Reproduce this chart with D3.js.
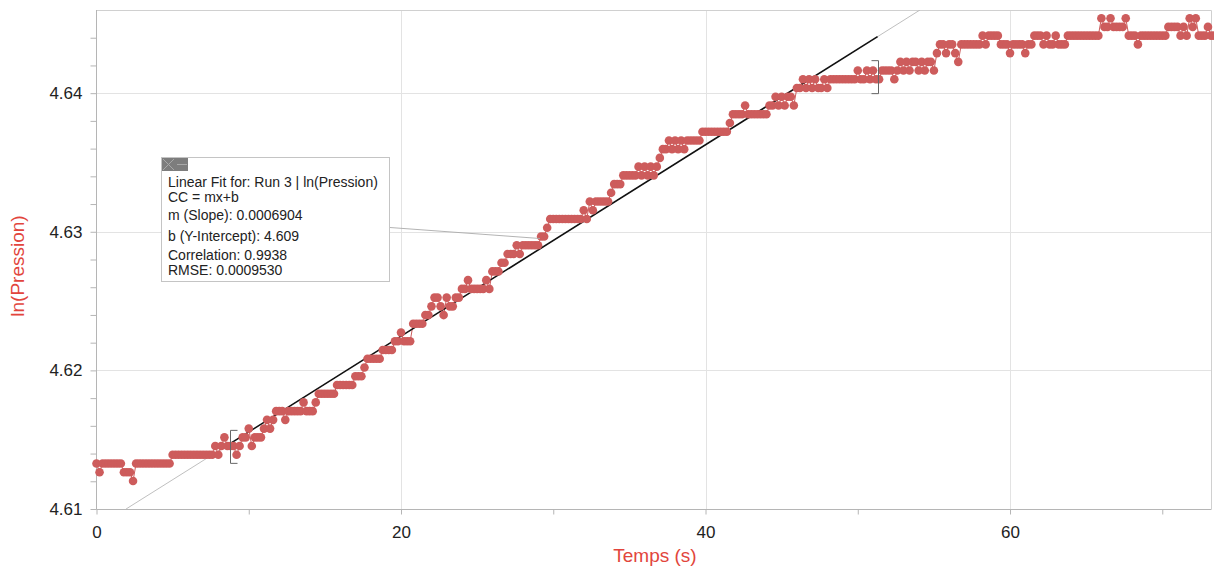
<!DOCTYPE html>
<html>
<head>
<meta charset="utf-8">
<script src="https://cdn.jsdelivr.net/npm/d3@7"></script>
<style>
  html, body { margin: 0; padding: 0; background: #fff; }
  svg { display: block; font-family: "Liberation Sans", Arial, sans-serif; }
</style>
</head>
<body>
<svg id="chart" width="1214" height="571"></svg>
<script>
// ---- data ----
const sampleInterval = 0.2; // s between readings
// ln(Pression) readings, run-length encoded: [value, number of consecutive readings]
const lnPressionRuns = [
  [4.61328,1],[4.61265,1],[4.61328,7],[4.61265,3],[4.61202,1],[4.61328,12],
  [4.61391,14],[4.61454,1],[4.61391,1],[4.61454,1],[4.61517,1],[4.61454,3],
  [4.61391,1],[4.61454,1],[4.61517,2],[4.6158,1],[4.61454,1],[4.61517,3],
  [4.6158,1],[4.61643,1],[4.6158,1],[4.61643,1],[4.61706,3],[4.61643,1],
  [4.61706,5],[4.61769,1],[4.61706,3],[4.61769,1],[4.61832,6],[4.61895,6],
  [4.61958,3],[4.62021,1],[4.62084,5],[4.62147,4],[4.6221,2],[4.62273,1],
  [4.6221,3],[4.62336,4],[4.62399,2],[4.62462,1],[4.62525,2],[4.62462,1],
  [4.62399,1],[4.62525,1],[4.62462,2],[4.62525,2],[4.62588,2],[4.62651,1],
  [4.62588,5],[4.62651,1],[4.62588,1],[4.62714,3],[4.62777,2],[4.6284,3],
  [4.62903,1],[4.6284,1],[4.62903,6],[4.62966,2],[4.63029,1],[4.63092,11],
  [4.63155,1],[4.63092,1],[4.63218,1],[4.63155,1],[4.63218,5],[4.63281,1],
  [4.63344,3],[4.63407,5],[4.6347,1],[4.63407,1],[4.6347,1],[4.63407,1],
  [4.6347,1],[4.63407,1],[4.6347,1],[4.63533,1],[4.63596,2],[4.63659,1],
  [4.63596,1],[4.63659,1],[4.63596,1],[4.63659,1],[4.63596,1],[4.63659,5],
  [4.63722,9],[4.63785,1],[4.63848,4],[4.63911,1],[4.63848,7],[4.63911,2],
  [4.63974,1],[4.63911,1],[4.63974,1],[4.63911,1],[4.63974,2],[4.63911,1],
  [4.64037,2],[4.641,1],[4.64037,1],[4.641,1],[4.64037,1],[4.641,1],
  [4.64037,2],[4.641,1],[4.64037,1],[4.641,9],[4.64163,1],[4.641,2],
  [4.64163,1],[4.641,1],[4.64163,1],[4.641,2],[4.64163,4],[4.641,1],
  [4.64163,1],[4.64226,1],[4.64163,1],[4.64226,1],[4.64163,1],[4.64226,2],
  [4.64163,1],[4.64226,1],[4.64163,1],[4.64226,2],[4.64163,1],[4.64289,1],
  [4.64352,2],[4.64289,1],[4.64352,2],[4.64289,1],[4.64226,1],[4.64352,7],
  [4.64415,1],[4.64352,1],[4.64415,4],[4.64352,3],[4.64289,1],[4.64352,4],
  [4.64289,1],[4.64352,2],[4.64415,3],[4.64352,1],[4.64415,1],[4.64352,2],
  [4.64415,1],[4.64352,3],[4.64415,11],[4.64541,1],[4.64478,2],[4.64541,1],
  [4.64478,4],[4.64541,1],[4.64415,3],[4.64352,1],[4.64415,9],[4.64478,4],
  [4.64415,1],[4.64478,1],[4.64415,1],[4.64541,1],[4.64478,1],[4.64541,1],
  [4.64415,3],[4.64478,1],[4.64415,2]
];

// Linear fit
const fitSlope = 0.0006904;
const fitIntercept = 4.60866;
const fitRange = [8.8, 51.3];
const fitLines = [
  "Linear Fit for: Run 3 | ln(Pression)",
  "CC = mx+b",
  "m (Slope): 0.0006904",
  "b (Y-Intercept): 4.609",
  "Correlation: 0.9938",
  "RMSE: 0.0009530"
];

// Axes
const xDomain = [0, 73.2];
const yDomain = [4.61, 4.646];
const xTicks = [0, 10, 20, 30, 40, 50, 60, 70];
const xLabelTicks = [0, 20, 40, 60];
const yTicks = [4.61, 4.612, 4.614, 4.616, 4.618, 4.62, 4.622, 4.624, 4.626, 4.628,
                4.63, 4.632, 4.634, 4.636, 4.638, 4.64, 4.642, 4.644];
const yLabelTicks = [4.61, 4.62, 4.63, 4.64];
const xTitle = "Temps (s)";
const yTitle = "ln(Pression)";

// ---- build points ----
const points = [];
lnPressionRuns.forEach(([v, n]) => {
  for (let j = 0; j < n; j++) points.push({ t: points.length * sampleInterval, v });
});

// ---- drawing ----
const svg = d3.select("#chart");
const L = 96.5, R = 1211, T = 10, B = 509;
const x = d3.scaleLinear().domain(xDomain).range([L, R]);
const y = d3.scaleLinear().domain(yDomain).range([B, T]);
const dataColor = "#cd5c5c";
const titleColor = "#e2453c";

svg.append("defs").append("clipPath").attr("id", "clip")
  .append("rect").attr("x", L).attr("y", T).attr("width", R - L).attr("height", B - T);

// grid
const grid = svg.append("g");
grid.selectAll(".gx").data(xLabelTicks.filter(d => d > 0)).join("line")
  .attr("x1", d => Math.round(x(d)) + 0.5).attr("x2", d => Math.round(x(d)) + 0.5)
  .attr("y1", T).attr("y2", B).attr("stroke", "#e3e3e3");
grid.selectAll(".gy").data(yLabelTicks.filter(d => d > yDomain[0])).join("line")
  .attr("y1", d => Math.round(y(d)) + 0.5).attr("y2", d => Math.round(y(d)) + 0.5)
  .attr("x1", L).attr("x2", R).attr("stroke", "#e3e3e3");

// frame (top, right)
svg.append("path")
  .attr("d", `M${L},${T + 0.5}H${R + 0.5}V${B}`)
  .attr("fill", "none").attr("stroke", "#d0d0d0");

// axes
const xAxis = d3.axisBottom(x).tickValues(xTicks)
  .tickFormat(d => xLabelTicks.includes(d) ? d3.format("d")(d) : "")
  .tickSize(5).tickPadding(11);
const gx = svg.append("g").attr("transform", `translate(0,${B + 0.5})`).call(xAxis);
gx.select(".domain").attr("stroke", "#b5b5b5").attr("d", `M${L},0H${R + 0.5}`);
gx.selectAll(".tick line").attr("stroke", "#b5b5b5");
gx.selectAll(".tick text").attr("font-size", 17).attr("fill", "#222")
  .attr("font-family", "Liberation Sans, Arial, sans-serif");

const yAxis = d3.axisLeft(y).tickValues(yTicks)
  .tickFormat(d => yLabelTicks.some(v => Math.abs(v - d) < 1e-9) ? d3.format(".2f")(d) : "")
  .tickSize(6).tickPadding(8);
const gy = svg.append("g").attr("transform", `translate(${L},0)`).call(yAxis);
gy.select(".domain").attr("stroke", "#b5b5b5").attr("d", `M0,${T}V${B + 0.5}`);
gy.selectAll(".tick line").attr("stroke", "#b5b5b5");
gy.selectAll(".tick text").attr("font-size", 17).attr("fill", "#222")
  .attr("font-family", "Liberation Sans, Arial, sans-serif");

// axis titles
svg.append("text").attr("x", 655).attr("y", 562).attr("text-anchor", "middle")
  .attr("font-size", 19).attr("fill", titleColor).text(xTitle);
svg.append("text").attr("transform", "translate(24,266) rotate(-90)")
  .attr("text-anchor", "middle").attr("font-size", 19).attr("fill", titleColor).text(yTitle);

const plot = svg.append("g").attr("clip-path", "url(#clip)");

// extended fit line (thin gray)
const tLow = (yDomain[0] - fitIntercept) / fitSlope;
const tHigh = (yDomain[1] - fitIntercept) / fitSlope;
plot.append("line")
  .attr("x1", x(tLow)).attr("y1", y(fitIntercept + fitSlope * tLow))
  .attr("x2", x(tHigh)).attr("y2", y(fitIntercept + fitSlope * tHigh))
  .attr("stroke", "#b8b8b8").attr("stroke-width", 0.9);

// data: connecting line and dots
plot.append("path").datum(points)
  .attr("d", d3.line().x(d => x(d.t)).y(d => y(d.v)))
  .attr("fill", "none").attr("stroke", dataColor).attr("stroke-width", 1);
svg.append("g").selectAll("circle").data(points).join("circle")
  .attr("cx", d => x(d.t)).attr("cy", d => y(d.v)).attr("r", 4.3)
  .attr("fill", dataColor);

// fit line
plot.append("line")
  .attr("x1", x(fitRange[0])).attr("y1", y(fitIntercept + fitSlope * fitRange[0]))
  .attr("x2", x(fitRange[1])).attr("y2", y(fitIntercept + fitSlope * fitRange[1]))
  .attr("stroke", "#111").attr("stroke-width", 1.6);

// range brackets
(function () {
  const cx = Math.round(x(fitRange[0])) + 0.5;
  const cy = y(fitIntercept + fitSlope * fitRange[0]);
  svg.append("path")
    .attr("d", `M${cx + 7},${cy - 13}H${cx}V${cy + 20}H${cx + 7}`)
    .attr("fill", "none").attr("stroke", "#666").attr("stroke-width", 1);
})();
(function () {
  const cx = Math.round(x(fitRange[1])) + 0.5;
  const cy = y(fitIntercept + fitSlope * fitRange[1]);
  svg.append("path")
    .attr("d", `M${cx - 7},${cy + 24}H${cx}V${cy + 57}H${cx - 7}`)
    .attr("fill", "none").attr("stroke", "#666").attr("stroke-width", 1);
})();

// connector from annotation box
svg.append("line").attr("x1", 390).attr("y1", 227.5).attr("x2", 540).attr("y2", 238.5)
  .attr("stroke", "#aaa").attr("stroke-width", 0.9);

// annotation box
const box = svg.append("g").attr("transform", "translate(161.5,157.5)");
box.append("rect").attr("width", 228).attr("height", 124)
  .attr("fill", "#fff").attr("stroke", "#c4c4c4");
box.append("rect").attr("x", 0.5).attr("y", 0.5).attr("width", 13).attr("height", 13).attr("fill", "#7d7d7d");
box.append("rect").attr("x", 13.5).attr("y", 0.5).attr("width", 13).attr("height", 13).attr("fill", "#7d7d7d");
box.append("path").attr("d", "M1.5,1.5L12.5,12.5M12.5,1.5L1.5,12.5")
  .attr("stroke", "#a8a8a8").attr("stroke-width", 1);
box.append("path").attr("d", "M15.5,7H25.5").attr("stroke", "#a8a8a8").attr("stroke-width", 1);
const lineYs = [29, 44, 62, 83, 102, 117];
box.selectAll("text.fit").data(fitLines).join("text")
  .attr("x", 6.5).attr("y", (d, i) => lineYs[i])
  .attr("font-size", 14).attr("fill", "#222").text(d => d);
</script>
</body>
</html>
